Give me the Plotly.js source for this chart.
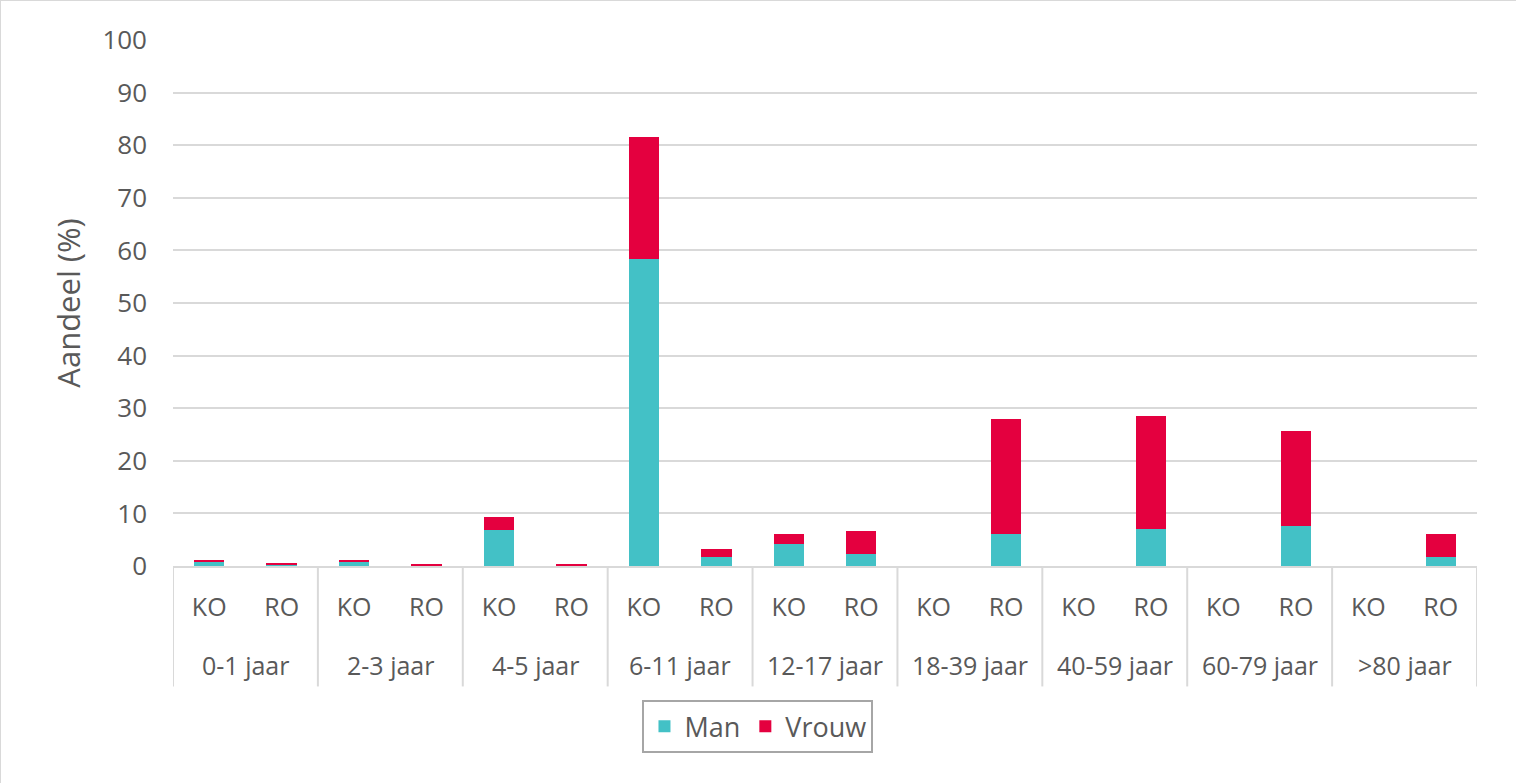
<!DOCTYPE html>
<html>
<head>
<meta charset="utf-8">
<script src="https://cdn.plot.ly/plotly-3.0.1.min.js"></script>
<style>
html,body{margin:0;padding:0;background:#fff;}
#chart{width:1516px;height:783px;box-sizing:border-box;border:1px solid #d9d9d9;}
</style>
</head>
<body>
<div id="chart"></div>
<script>
var groups = ["0-1 jaar","2-3 jaar","4-5 jaar","6-11 jaar","12-17 jaar","18-39 jaar","40-59 jaar","60-79 jaar",">80 jaar"];
var types = ["KO","RO"];
// values per group: [KO, RO]
var manKO   = [0.7, 0.7, 6.8, 58.3, 4.2, 0, 0, 0, 0];
var manRO   = [0.2, 0.1, 0.05, 1.7, 2.2, 6.1, 7.1, 7.6, 1.8];
var vrouwKO = [0.5, 0.5, 2.6, 23.3, 1.9, 0, 0, 0, 0];
var vrouwRO = [0.4, 0.3, 0.25, 1.6, 4.5, 21.8, 21.5, 18.0, 4.3];

var cats = [], catText = [], man = [], vrouw = [];
for (var i = 0; i < groups.length; i++) {
  for (var j = 0; j < types.length; j++) {
    cats.push(groups[i] + " " + types[j]);
    catText.push(types[j]);
  }
  man.push(manKO[i], manRO[i]);
  vrouw.push(vrouwKO[i], vrouwRO[i]);
}

var font = "'Open Sans', 'Noto Sans', sans-serif";
var grey = "#595959";
var lineCol = "#d9d9d9";

// group labels and dividers for a two-level category axis
var annotations = [], shapes = [];
for (var g = 0; g < groups.length; g++) {
  annotations.push({xref:"x", yref:"paper", x:g*types.length + (types.length-1)/2, y:-0.189,
    text:groups[g], showarrow:false, xanchor:"center", yanchor:"middle",
    font:{size:25, color:grey, family:font}});
}
for (var d = 0; d <= groups.length; d++) {
  shapes.push({type:"line", xref:"x", yref:"paper", x0:d*types.length - 0.5, x1:d*types.length - 0.5,
    y0:0, y1:-0.229, line:{color:lineCol, width:2}});
}

var data = [
  {type:"bar", name:"Man", x:cats, y:man, marker:{color:"#43C1C6"}},
  {type:"bar", name:"Vrouw", x:cats, y:vrouw, marker:{color:"#E4003F"}}
];
var layout = {
  width:1516, height:783,
  barmode:"stack", bargap:0.58,
  margin:{l:172, r:40, t:39, b:218},
  paper_bgcolor:"#fff", plot_bgcolor:"#fff",
  font:{family:font, color:grey, size:25},
  xaxis:{type:"category", range:[-0.5, cats.length-0.5], showgrid:false, showline:true, linecolor:lineCol, linewidth:2,
         ticks:"", tickmode:"array", tickvals:cats, ticktext:catText, tickangle:0,
         ticklabelstandoff:18, tickfont:{size:25, color:grey}},
  yaxis:{range:[0,100], dtick:10, showgrid:true, gridcolor:lineCol, gridwidth:2,
         zeroline:false, showline:false, ticks:"",
         ticklabelstandoff:25,
         tickfont:{size:26, color:grey},
         title:{text:"Aandeel (%)", font:{size:31, color:grey}, standoff:12}},
  annotations:annotations,
  shapes:shapes,
  showlegend:true,
  legend:{orientation:"h", traceorder:"normal", x:0.4486, xanchor:"center", y:-0.255, yanchor:"top",
          bordercolor:"#a6a6a6", borderwidth:2, font:{size:27, color:grey},
          itemwidth:30, entrywidth:0}
};
Plotly.newPlot("chart", data, layout, {displayModeBar:false});
</script>
</body>
</html>
